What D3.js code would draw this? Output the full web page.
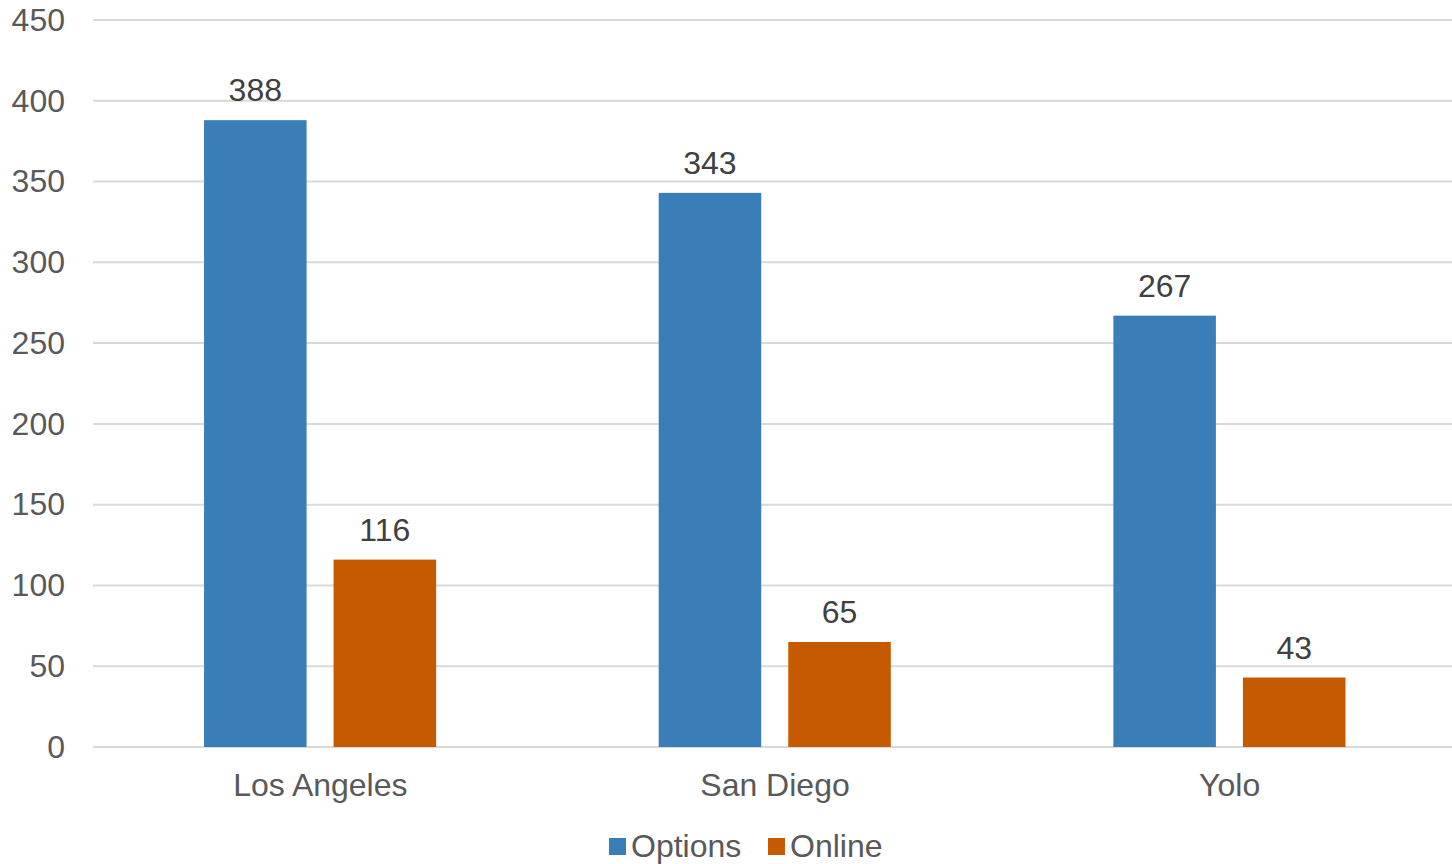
<!DOCTYPE html>
<html>
<head>
<meta charset="utf-8">
<script src="https://cdn.jsdelivr.net/npm/d3@7"></script>
<style>
  html, body { margin: 0; padding: 0; background: #fff; }
  svg { display: block; font-family: "Liberation Sans", Arial, sans-serif; }
</style>
</head>
<body>
<div id="chart"></div>
<script>
  // datos
  const categories = ['Los Angeles', 'San Diego', 'Yolo'];
  const seriesNames = ['Options', 'Online'];
  const optionsValues = [388, 343, 267];
  const onlineValues = [116, 65, 43];
  const yTicks = [0, 50, 100, 150, 200, 250, 300, 350, 400, 450];
  const colors = ['#3a7eb8', '#c55a00'];

  const WIDTH = 1452;
  const HEIGHT = 864;
  // el area del grafico se sale un poco por la derecha
  const MARGIN = { TOP: 20, BOTTOM: 117, LEFT: 93, RIGHT: -5 };
  const FONT = '32px';

  const svg = d3.select('#chart').append('svg')
    .attr('width', WIDTH)
    .attr('height', HEIGHT);

  const rows = categories.map((c, i) => ({ cat: c, values: [optionsValues[i], onlineValues[i]] }));

  const x = d3.scaleBand()
    .domain(categories)
    .range([MARGIN.LEFT, WIDTH - MARGIN.RIGHT])
    .paddingInner(0)
    .paddingOuter(0);

  const y = d3.scaleLinear()
    .domain([0, 450])
    .range([HEIGHT - MARGIN.BOTTOM, MARGIN.TOP]);

  // dentro de cada grupo
  const x1 = d3.scaleBand()
    .domain(seriesNames)
    .range([x.bandwidth() * 0.2442, x.bandwidth() * 0.7547])
    .paddingInner(0.2085);

  // grilla
  svg.append('g')
    .selectAll('line')
    .data(yTicks)
    .join('line')
    .attr('x1', MARGIN.LEFT)
    .attr('x2', WIDTH)
    .attr('y1', d => y(d))
    .attr('y2', d => y(d))
    .style('stroke', '#d9d9d9')
    .style('stroke-width', 2);

  // eje y
  const yAxis = svg.append('g')
    .attr('transform', `translate(${MARGIN.LEFT}, 0)`)
    .call(d3.axisLeft(y).tickValues(yTicks).tickSize(0).tickPadding(28));
  yAxis.select('.domain').remove();
  yAxis.selectAll('text')
    .style('font-size', FONT)
    .style('fill', '#595959')
    .attr('font-family', null);

  // eje x
  const xAxis = svg.append('g')
    .attr('transform', `translate(0, ${HEIGHT - MARGIN.BOTTOM})`)
    .call(d3.axisBottom(x).tickSize(0).tickPadding(26));
  xAxis.select('.domain').remove();
  xAxis.selectAll('text')
    .style('font-size', FONT)
    .style('fill', '#595959')
    .attr('font-family', null);

  // barras
  const groups = svg.append('g')
    .selectAll('g')
    .data(rows)
    .join('g')
    .attr('transform', d => `translate(${x(d.cat)}, 0)`);

  const bars = groups.selectAll('g')
    .data(d => d.values.map((v, i) => ({ key: seriesNames[i], value: v, idx: i })))
    .join('g');

  bars.append('rect')
    .attr('x', d => x1(d.key))
    .attr('width', x1.bandwidth())
    .attr('y', d => y(d.value))
    .attr('height', d => y(0) - y(d.value))
    .style('fill', d => colors[d.idx]);

  bars.append('text')
    .attr('x', d => x1(d.key) + x1.bandwidth() / 2)
    .attr('y', d => y(d.value) - 19)
    .attr('text-anchor', 'middle')
    .style('font-size', FONT)
    .style('fill', '#404040')
    .text(d => d.value);

  // leyenda
  const legend = svg.append('g');
  const legendX = [609, 768];
  seriesNames.forEach((name, i) => {
    legend.append('rect')
      .attr('x', legendX[i])
      .attr('y', 838)
      .attr('width', 17)
      .attr('height', 17)
      .style('fill', colors[i]);
    legend.append('text')
      .attr('x', legendX[i] + 22)
      .attr('y', 857)
      .style('font-size', FONT)
      .style('fill', '#595959')
      .text(name);
  });
</script>
</body>
</html>
